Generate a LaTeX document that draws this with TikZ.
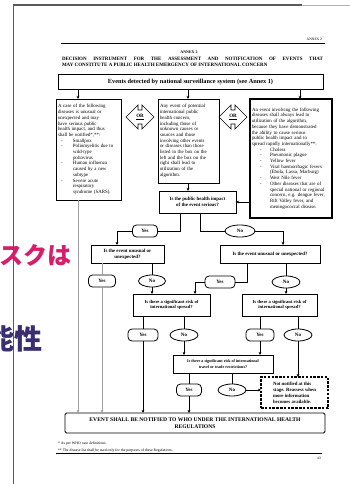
\documentclass[tikz,border=0pt]{standalone}
\usepackage{fontspec}
\setmainfont{Liberation Serif}
\newfontfamily\jpfont{Noto Sans CJK JP}
\usetikzlibrary{shapes.geometric,shapes.arrows,arrows.meta}
\definecolor{jppink}{RGB}{214,30,108}
\definecolor{jpnavy}{RGB}{58,46,112}
\definecolor{pageline}{RGB}{90,90,90}
\newcommand\lbul{\hspace*{3pt}\makebox[12pt][l]{-}}
\newcommand\lcon{\hspace*{15pt}}
\newcommand\rbul{\hspace*{8pt}\makebox[10pt][l]{-}}
\newcommand\rcon{\hspace*{18pt}}
\begin{document}
\begin{tikzpicture}[x=1pt,y=-1pt,
  every node/.style={inner sep=0pt,outer sep=0pt},
  txtbox/.style={draw,line width=0.7pt,align=left,inner xsep=2pt,font=\fontsize{4.9}{5.7}\selectfont},
  qbox/.style={draw,line width=0.8pt,align=center,font=\bfseries\fontsize{4.9}{5.8}\selectfont},
  yesbox/.style={draw,rounded corners=4pt,line width=0.8pt,minimum height=12pt,font=\bfseries\fontsize{5}{5}\selectfont},
  nobox/.style={draw,ellipse,line width=0.8pt,minimum height=12pt,font=\bfseries\fontsize{5}{5}\selectfont},
  orarrow/.style={draw,double arrow,line width=0.7pt,minimum height=28pt,double arrow head extend=5pt,inner xsep=2pt,inner ysep=4pt,font=\bfseries\fontsize{5}{5}\selectfont},
  link/.style={line width=0.6pt},
  arr/.style={link,-{Stealth[length=3.2pt,width=2.8pt]}},
  jptext/.style={anchor=west,font=\jpfont\bfseries\fontsize{24}{24}\selectfont}
]
\useasboundingbox (0,0) rectangle (350,484);
\clip (0,0) rectangle (350,484);
\fill[white] (0,0) rectangle (350,484);

% Japanese text behind the page edge
\node[jptext,text=jppink] (jp1) at (-1,255) {スクは};
\node[jptext,text=jpnavy,font=\jpfont\bfseries\fontsize{28}{28}\selectfont] (jp2) at (-13,339) {能性};

% page edges
\coordinate (pgtl) at (13,5);
\coordinate (pgtr) at (302,5);
\coordinate (pgend) at (350,5);
\coordinate (pgbl) at (13,484);
\draw[pageline,line width=1.2pt] (pgtl) -- (pgtr);
\draw[gray!60,line width=0.6pt] (pgtr) -- (pgend);
\draw[pageline,line width=0.8pt] (pgtl) -- (pgbl);

% header
\node[anchor=base east,font=\fontsize{3.6}{4}\selectfont] (hdr) at (322,41) {ANNEX 2};
\coordinate (rulel) at (61,43.5);
\coordinate (ruler) at (325,43.5);
\draw[line width=0.6pt] (rulel) -- (ruler);
\node[anchor=base,font=\bfseries\fontsize{4}{4}\selectfont] (annex) at (189,54) {ANNEX 2};
\node[anchor=base west,font=\bfseries\fontsize{5}{5}\selectfont] (title1) at (62,60.5)
  {\makebox[261pt][s]{DECISION INSTRUMENT FOR THE ASSESSMENT AND NOTIFICATION OF EVENTS THAT}};
\node[anchor=base west,font=\bfseries\fontsize{5}{5}\selectfont] (title2) at (62,67)
  {MAY CONSTITUTE A PUBLIC HEALTH EMERGENCY OF INTERNATIONAL CONCERN};

% top box
\node[draw,line width=0.9pt,minimum width=265pt,minimum height=15pt,font=\bfseries\fontsize{6.3}{7}\selectfont] (top) at (190.5,81.5)
  {Events detected by national surveillance system (see Annex 1)};

% three boxes
\node[txtbox,minimum width=65pt,text width=61pt,minimum height=101pt] (lbox) at (88.5,149.5)
 {A case of the following\\
  diseases is unusual or\\
  unexpected and may\\
  have serious public\\
  health impact, and thus\\
  shall be notified*,**:\\
  \lbul Smallpox\\
  \lbul Poliomyelitis due to\\
  \lcon wild-type\\
  \lcon poliovirus\\
  \lbul Human influenza\\
  \lcon caused by a new\\
  \lcon subtype\\
  \lbul Severe acute\\
  \lcon respiratory\\
  \lcon syndrome (SARS).};
\node[txtbox,minimum width=61pt,text width=57pt,minimum height=84pt] (mbox) at (188.5,141)
 {Any event of potential\\
  international public\\
  health concern,\\
  including those of\\
  unknown causes or\\
  sources and those\\
  involving other events\\
  or diseases than those\\
  listed in the box on the\\
  left and the box on the\\
  right shall lead to\\
  utilization of the\\
  algorithm.};
\node[txtbox,line width=1.2pt,minimum width=82pt,text width=78pt,minimum height=119pt] (rbox) at (291,158.5)
 {An event involving the following\\
  diseases shall always lead to\\
  utilization of the algorithm,\\
  because they have demonstrated\\
  the ability to cause serious\\
  public health impact and to\\
  spread rapidly internationally**:\\
  \rbul Cholera\\
  \rbul Pneumonic plague\\
  \rbul Yellow fever\\
  \rbul Viral haemorrhagic fevers\\
  \rcon (Ebola, Lassa, Marburg)\\
  \rbul West Nile fever\\
  \rbul Other diseases that are of\\
  \rcon special national or regional\\
  \rcon concern, e.g. dengue fever,\\
  \rcon Rift Valley fever, and\\
  \rcon meningococcal disease.};

\node[orarrow] (or1) at (140,117) {\underline{OR}};
\node[orarrow] (or2) at (233,117) {\underline{OR}};

% questions
\node[qbox,minimum width=77pt,minimum height=22pt] (q1) at (197.5,202) {Is the public health impact\\of the event serious?};
\node[yesbox,minimum width=25pt] (yes1) at (145,231) {Yes};
\node[nobox,minimum width=30pt] (no1) at (240,231) {No};
\node[qbox,minimum width=73pt,minimum height=18pt] (q2l) at (127.5,254) {Is the event unusual or\\unexpected?};
\node[qbox,minimum width=100pt,minimum height=18pt] (q2r) at (270,254) {Is the event unusual or unexpected?};
\node[yesbox,minimum width=27pt] (yes2l) at (102,281) {Yes};
\node[nobox,minimum width=27pt] (no2l) at (152,281) {No};
\node[yesbox,minimum width=30pt] (yes2r) at (220,282) {Yes};
\node[nobox,minimum width=28pt] (no2r) at (286,282) {No};
\node[qbox,minimum width=77pt,minimum height=22pt,font=\bfseries\fontsize{4.6}{5.6}\selectfont] (q3l) at (171.5,305) {Is there a significant risk of\\international spread?};
\node[qbox,minimum width=75pt,minimum height=22pt,font=\bfseries\fontsize{4.6}{5.6}\selectfont] (q3r) at (279.5,305) {Is there a significant risk of\\international spread?};
\node[yesbox,minimum width=30pt] (yes3l) at (143,335) {Yes};
\node[nobox,minimum width=28pt] (no3l) at (184,335) {No};
\node[yesbox,minimum width=28pt] (yes3r) at (260,335) {Yes};
\node[nobox,minimum width=28pt] (no3r) at (298,335) {No};
\node[qbox,minimum width=100pt,minimum height=18pt,font=\bfseries\fontsize{4.1}{5.2}\selectfont] (q4) at (223,364) {Is there a significant risk of international\\travel or trade restrictions?};
\node[yesbox,minimum width=25pt] (yes4) at (189,390) {Yes};
\node[nobox,minimum width=28pt] (no4) at (232,390) {No};
\node[draw,line width=1.2pt,dash pattern=on 2.5pt off 1.3pt,minimum width=67pt,minimum height=31pt,align=left,font=\bfseries\fontsize{4.8}{5.9}\selectfont] (nn) at (294.5,392.5)
  {Not notified at this\\stage. Reassess when\\more information\\becomes available.};
\node[draw,line width=0.9pt,rounded corners=1.5pt,minimum width=260pt,minimum height=20pt,align=center,font=\bfseries\fontsize{5.6}{6.8}\selectfont] (bot) at (195,423)
  {EVENT SHALL BE NOTIFIED TO WHO UNDER THE INTERNATIONAL HEALTH\\REGULATIONS};

% footnotes
\node[anchor=base west,font=\fontsize{3.8}{4}\selectfont] (fn1) at (58,444) {* As per WHO case definitions.};
\node[anchor=base west,font=\fontsize{3.8}{4}\selectfont] (fn2) at (58,451.5) {** The disease list shall be used only for the purposes of these Regulations.};
\coordinate (fl) at (56,453.5);
\coordinate (fr) at (322,453.5);
\draw[line width=0.6pt] (fl) -- (fr);
\node[anchor=base,font=\fontsize{3.6}{4}\selectfont] (pgno) at (319,459) {43};

% column coordinates
\coordinate (xa) at (78,0);
\coordinate (xb) at (188,0);
\coordinate (xc) at (300,0);
\coordinate (xd) at (180,0);
\coordinate (xe) at (117,0);
\coordinate (xf) at (200,0);
\coordinate (xg) at (283,0);
\coordinate (xh) at (247,0);
\coordinate (xi) at (195,0);

% connectors
\draw[arr] (top.south -| xa) -- (lbox.north -| xa);
\draw[arr] (top.south -| xb) -- (mbox.north -| xb);
\draw[arr] (top.south -| xc) -- (rbox.north -| xc);
\draw[arr] (mbox.south -| xb) -- (q1.north -| xb);
\draw[arr] (rbox.west |- q1.east) -- (q1.east);
\draw[link] (q1.south -| xd) |- (yes1.east);
\draw[arr] (yes1.west) -| (q2l.north -| xe);
\draw[link] (q1.south -| xf) |- (no1.west);
\draw[arr] (no1.east) -| (q2r.north -| xg);
\draw[arr,gray!75] (lbox.south -| xa) -- (bot.north -| xa);
\draw[link,gray!75] (q2l.south -| yes2l) -- (yes2l.north);
\draw[arr,gray!75] (yes2l.south) -- (bot.north -| yes2l);
\draw[link] (q2l.south -| no2l) -- (no2l.north);
\draw[arr] (no2l.south) -- (q3l.north -| no2l);
\draw[link] (q2r.south -| xh) |- (yes2r.east);
\draw[arr] (yes2r.west) -| (q3l.north -| xi);
\draw[link] (q2r.south -| no2r) -- (no2r.north);
\draw[arr] (no2r.south) -- (q3r.north -| no2r);
\draw[link] (q3l.south -| yes3l) -- (yes3l.north);
\draw[arr] (yes3l.south) -- (bot.north -| yes3l);
\draw[link] (q3l.south -| no3l) -- (no3l.north);
\draw[arr] (no3l.south) -- (q4.north -| no3l);
\draw[link] (q3r.south -| yes3r) -- (yes3r.north);
\draw[arr] (yes3r.south) -- (q4.north -| yes3r);
\draw[link] (q3r.south -| no3r) -- (no3r.north);
\draw[arr] (no3r.south) -- (nn.north -| no3r);
\draw[link] (q4.south -| yes4) -- (yes4.north);
\draw[arr] (yes4.south) -- (bot.north -| yes4);
\draw[link] (q4.south -| no4) -- (no4.north);
\draw[arr] (no4.east) -- (nn.west |- no4);
\end{tikzpicture}
\end{document}
